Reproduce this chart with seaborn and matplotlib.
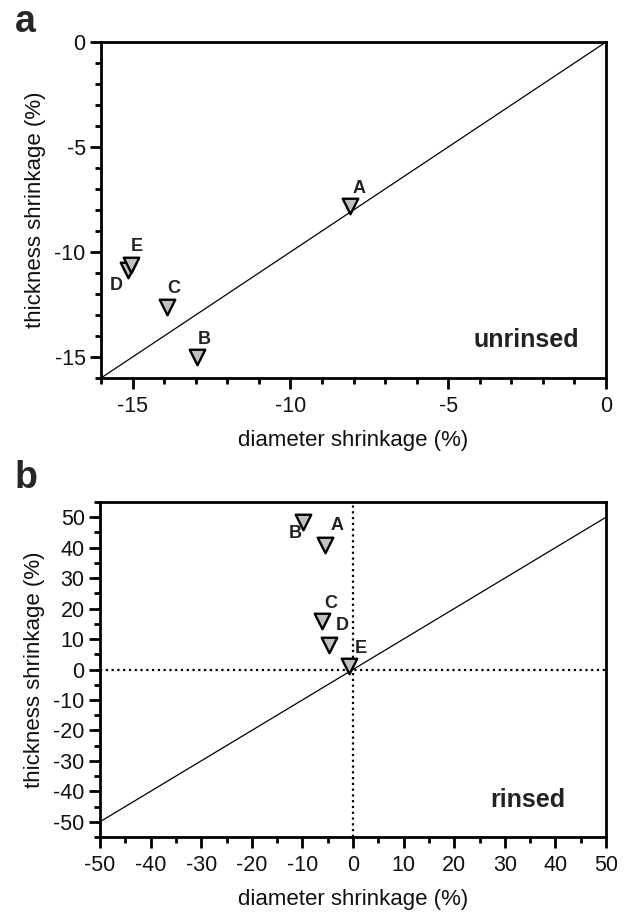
import matplotlib
matplotlib.use("Agg")
import matplotlib.pyplot as plt
from matplotlib.ticker import MultipleLocator
import seaborn as sns
import pandas as pd

# ---- data ----
samples = ["A", "B", "C", "D", "E"]
unrinsed_diameter = [-8.1, -12.95, -13.9, -15.15, -15.05]
unrinsed_thickness = [-7.8, -15.0, -12.6, -10.85, -10.6]
rinsed_diameter = [-5.5, -9.8, -6.2, -4.7, -0.8]
rinsed_thickness = [40.9, 48.5, 15.9, 8.0, 1.3]

xlabel = "diameter shrinkage (%)"
ylabel = "thickness shrinkage (%)"

sns.set_theme(style="ticks")
plt.rcParams["font.family"] = ["Liberation Sans", "DejaVu Sans"]
plt.rcParams["axes.unicode_minus"] = False

fig = plt.figure(figsize=(6.27, 9.15), dpi=100)
W, H = 627, 915
def box(l, r, t, b):
    return [l / W, 1 - b / H, (r - l) / W, (b - t) / H]

ax_a = fig.add_axes(box(101, 606, 42, 378))
ax_b = fig.add_axes(box(100, 606, 502, 837))

mk = dict(marker="v", s=125, color="#c0c0c0", edgecolor="black", linewidth=1.7, zorder=5, legend=False)
lab = dict(textcoords="offset points", ha="center", va="center", fontsize=13,
           fontweight="bold", color="#222222", zorder=6)

df_a = pd.DataFrame({"x": unrinsed_diameter, "y": unrinsed_thickness, "s": samples})
df_b = pd.DataFrame({"x": rinsed_diameter, "y": rinsed_thickness, "s": samples})

# panel a
ax_a.axline((0, 0), slope=1, color="black", lw=0.9, zorder=2)
sns.scatterplot(data=df_a, x="x", y="y", ax=ax_a, **mk)
off_a = {"A": (6.5, 12.5), "B": (5, 12.5), "C": (4.3, 13.3), "D": (-8.5, -11), "E": (4.3, 13.3)}
for _, r in df_a.iterrows():
    ax_a.annotate(r.s, (r.x, r.y), xytext=off_a[r.s], **lab)
ax_a.set_xlim(-16, 0)
ax_a.set_ylim(-16, 0)
ax_a.xaxis.set_major_locator(MultipleLocator(5))
ax_a.xaxis.set_minor_locator(MultipleLocator(1))
ax_a.yaxis.set_major_locator(MultipleLocator(5))
ax_a.yaxis.set_minor_locator(MultipleLocator(1))
ax_a.text(-2.53, -14.2, "unrinsed", ha="center", va="center", fontsize=18,
          fontweight="bold", color="#222222")

# panel b
ax_b.axline((0, 0), slope=1, color="black", lw=0.9, zorder=2)
ax_b.axhline(0, color="black", lw=1.6, ls=(0, (1, 1.6)), zorder=1)
ax_b.axvline(0, color="black", lw=1.6, ls=(0, (1, 1.6)), zorder=1)
sns.scatterplot(data=df_b, x="x", y="y", ax=ax_b, **mk)
off_b = {"A": (8.5, 14), "B": (-6, -8.5), "C": (6.8, 13), "D": (9.2, 14), "E": (8.2, 12.5)}
for _, r in df_b.iterrows():
    ax_b.annotate(r.s, (r.x, r.y), xytext=off_b[r.s], **lab)
ax_b.set_xlim(-50, 50)
ax_b.set_ylim(-55, 55)
ax_b.set_xticks(range(-50, 51, 10))
ax_b.set_yticks(range(-50, 51, 10))
ax_b.xaxis.set_minor_locator(MultipleLocator(5))
ax_b.yaxis.set_minor_locator(MultipleLocator(5))
ax_b.text(34.6, -42.8, "rinsed", ha="center", va="center", fontsize=18,
          fontweight="bold", color="#222222")

for ax in (ax_a, ax_b):
    for sp in ax.spines.values():
        sp.set_linewidth(2.0)
        sp.set_color("black")
    ax.tick_params(which="major", length=8, width=2.0, labelsize=15.5, color="black",
                   labelcolor="#111111")
    ax.tick_params(which="minor", length=4.5, width=2.0, color="black")
    ax.tick_params(axis="x", which="major", pad=5)
    ax.tick_params(axis="y", which="major", pad=3)
    ax.set_xlabel(xlabel, fontsize=16, labelpad=9, color="#111111")
    ax.set_ylabel(ylabel, fontsize=16, labelpad=6, color="#111111")

fig.text(15 / W, 1 - 22 / H, "a", fontsize=27, fontweight="bold", ha="left", va="center")
fig.text(15 / W, 1 - 478 / H, "b", fontsize=27, fontweight="bold", ha="left", va="center")

fig.savefig("out.png", dpi=100)
